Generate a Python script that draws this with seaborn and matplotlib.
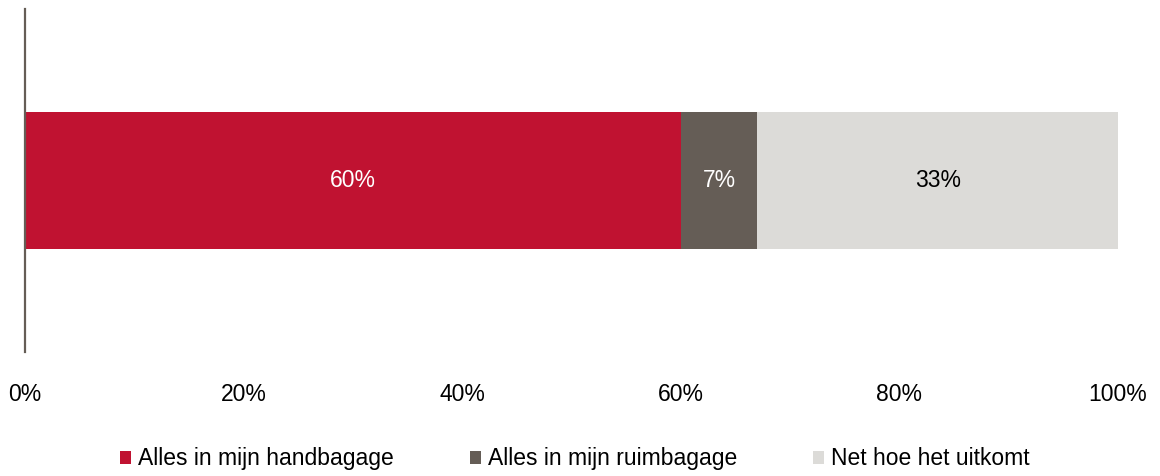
import matplotlib
matplotlib.use("Agg")
import numpy as np
import pandas as pd
import matplotlib.pyplot as plt
import seaborn as sns

# data
categories = ["Alles in mijn handbagage", "Alles in mijn ruimbagage", "Net hoe het uitkomt"]
values = [60, 7, 33]
colors = ["#C01231", "#655D56", "#DCDBD8"]
label_colors = ["white", "white", "black"]
tick_labels = ["0%", "20%", "40%", "60%", "80%", "100%"]

sns.set_theme(style="white")
plt.rcParams["font.family"] = ["Liberation Sans", "DejaVu Sans"]
plt.rcParams["text.color"] = "black"
plt.rcParams["xtick.color"] = "black"

fig = plt.figure(figsize=(11.6, 4.76), dpi=100)
ax = fig.add_axes([0.0216, 0.2605, 0.9422, 0.7205])

cum = np.cumsum(values)
df = pd.DataFrame({"group": ["q"] * len(values), "cat": categories, "cum": cum, "val": values})

# stacked bars: draw cumulative totals from largest to smallest
for i in reversed(range(len(values))):
    sns.barplot(data=df.iloc[[i]], x="cum", y="group", color=colors[i], width=0.4,
                orient="h", ax=ax, label=categories[i], saturation=1, linewidth=0)

for i in range(len(values)):
    ax.text(cum[i] - values[i] / 2, 0, f"{values[i]}%", ha="center", va="center",
            color=label_colors[i], fontsize=16.5)

ax.set_xlim(0, 100)
ax.set_ylim(0.5, -0.5)
ax.set_xticks(np.arange(0, 101, 20))
ax.set_xticklabels(tick_labels, fontsize=16.5)
ax.tick_params(axis="x", length=0, pad=22)
ax.set_yticks([])
ax.set_xlabel("")
ax.set_ylabel("")
for s in ["top", "right", "bottom"]:
    ax.spines[s].set_visible(False)
ax.spines["left"].set_color("#655D56")
ax.spines["left"].set_linewidth(1.6)

handles, labels = ax.get_legend_handles_labels()
order = [labels.index(c) for c in categories]
ax.legend([handles[k] for k in order], [labels[k] for k in order],
          loc="center", bbox_to_anchor=(0.4955, 0.036), bbox_transform=fig.transFigure,
          ncol=3, frameon=False, fontsize=16.5, handlelength=0.5, handleheight=0.5,
          handletextpad=0.3, columnspacing=3.3)

fig.savefig("out.png", dpi=100)
